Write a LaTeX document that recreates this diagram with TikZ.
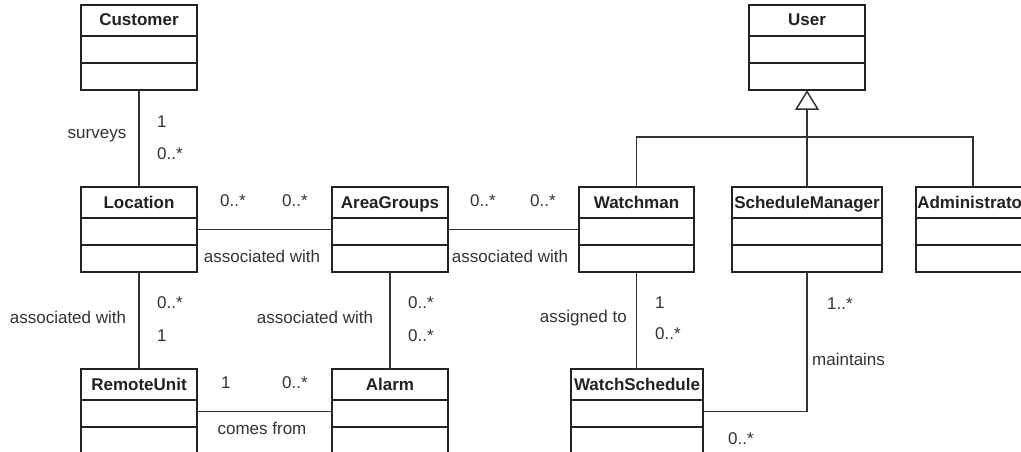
\documentclass[tikz,border=0pt]{standalone}
\usepackage{fontspec}
\setmainfont{Liberation Sans}
\usetikzlibrary{arrows.meta,calc}

\definecolor{ink}{HTML}{222222}
\definecolor{wire}{HTML}{333333}
\definecolor{txt}{HTML}{333333}

\tikzset{
  classbox/.style={draw=ink, line width=1.8pt, fill=white, minimum height=85pt,
    inner sep=0pt, outer sep=0pt},
  divider/.style={draw=ink, line width=1.8pt},
  classname/.style={font=\bfseries\fontsize{17}{20}\selectfont, text=ink,
    inner sep=0pt, anchor=base},
  assoc/.style={draw=wire, line width=1.5pt},
  gen/.style={draw=wire, line width=1.5pt},
  lbl/.style={font=\fontsize{17}{20}\selectfont, text=txt, inner sep=0pt},
}

% \umlclass{name}{centre x}{top y}{width}{title}
\newcommand{\umlclass}[5]{%
  \node[classbox, minimum width=#4pt, anchor=north] (#1) at (#2,#3) {};
  \node[classname] (#1-title) at ($(#1.north)+(0,21)$) {#5};
  \draw[divider] ($(#1.north west)+(0,31)$) -- ($(#1.north east)+(0,31)$);
  \draw[divider] ($(#1.north west)+(0,58)$) -- ($(#1.north east)+(0,58)$);
}

\begin{document}
\begin{tikzpicture}[x=1pt, y=-1pt]
  \useasboundingbox (0,0) rectangle (1021,452);
  \clip (0,0) rectangle (1021,452);
  \fill[white] (0,0) rectangle (1021,452);

  % classes
  \umlclass{customer}{139}{5}{116}{Customer}
  \umlclass{user}{807}{5}{116}{User}
  \umlclass{location}{139}{187}{116}{Location}
  \umlclass{areagroups}{390}{187}{116}{AreaGroups}
  \umlclass{watchman}{636.5}{187}{115}{Watchman}
  \umlclass{schedmgr}{807}{187}{150}{ScheduleManager}
  \umlclass{admin}{973}{187}{114}{Administrator}
  \umlclass{remoteunit}{139}{369}{116}{RemoteUnit}
  \umlclass{alarm}{390}{369}{116}{Alarm}
  \umlclass{watchsched}{637}{369}{132}{WatchSchedule}

  % associations
  \draw[assoc] (customer.south) -- (location.north);
  \draw[assoc] (location.east) -- (areagroups.west);
  \draw[assoc] (areagroups.east) -- (watchman.west);
  \draw[assoc] (location.south) -- (remoteunit.north);
  \draw[assoc] (areagroups.south) -- (alarm.north);
  \draw[assoc] (remoteunit.east) -- (alarm.west);
  \draw[assoc] (watchman.south) -- (watchman.south |- watchsched.north);
  \draw[assoc] (watchsched.east) -| (schedmgr.south);

  % generalisation to User
  \coordinate (bus) at (807,137);
  \draw[gen] (watchman.north) |- (bus) -| (admin.north);
  \draw[gen] (schedmgr.north) -- (bus);
  \draw[gen, line width=2.4pt, -{Triangle[open, length=20pt, width=24pt, line width=1.5pt, fill=white]}]
    (bus) -- (user.south);

  % association labels
  \node[lbl] (l-surveys) at (97,136) {surveys};
  \node[lbl, anchor=base west] (m-cust1) at (157,128) {1};
  \node[lbl, anchor=base west] (m-cust2) at (157,159) {0..*};

  \node[lbl, anchor=base west] (m-la1) at (220,206) {0..*};
  \node[lbl, anchor=base west] (m-la2) at (282,206) {0..*};
  \node[lbl] (l-la) at (262,256) {associated with};

  \node[lbl, anchor=base west] (m-aw1) at (470,206) {0..*};
  \node[lbl, anchor=base west] (m-aw2) at (530,206) {0..*};
  \node[lbl] (l-aw) at (510,256) {associated with};

  \node[lbl] (l-lr) at (68,317) {associated with};
  \node[lbl, anchor=base west] (m-lr1) at (157,308) {0..*};
  \node[lbl, anchor=base west] (m-lr2) at (157,341) {1};

  \node[lbl] (l-ga) at (315,317) {associated with};
  \node[lbl, anchor=base west] (m-ga1) at (408,308) {0..*};
  \node[lbl, anchor=base west] (m-ga2) at (408,341) {0..*};

  \node[lbl, anchor=base west] (m-ra1) at (221,388) {1};
  \node[lbl, anchor=base west] (m-ra2) at (282,388) {0..*};
  \node[lbl] (l-ra) at (262,428) {comes from};

  \node[lbl, anchor=base east] (l-ws) at (627,322) {assigned to};
  \node[lbl, anchor=base west] (m-ws1) at (655,308) {1};
  \node[lbl, anchor=base west] (m-ws2) at (655,339) {0..*};

  \node[lbl, anchor=base west] (m-sm1) at (827,309) {1..*};
  \node[lbl, anchor=base west] (l-sm) at (812,365) {maintains};
  \node[lbl, anchor=base west] (m-sm2) at (728,444) {0..*};
\end{tikzpicture}
\end{document}
